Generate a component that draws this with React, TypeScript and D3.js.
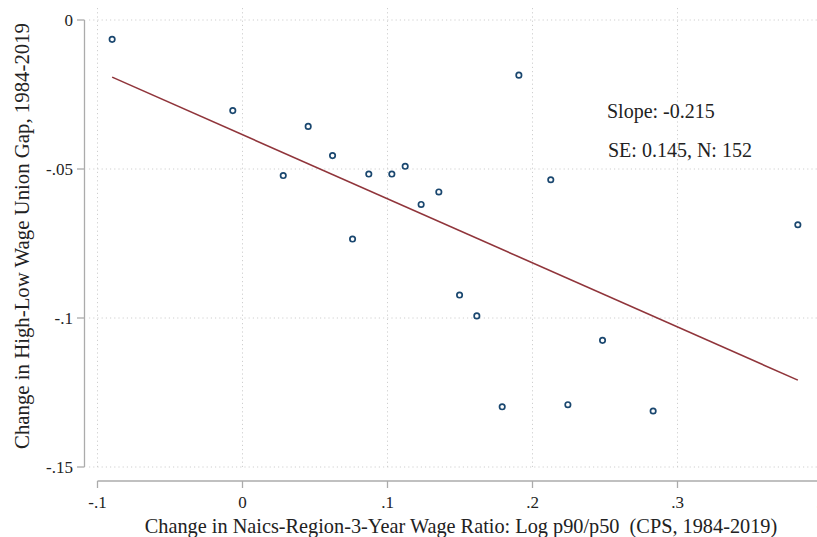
import React from "react";
import * as d3 from "d3";

const xValues = [-0.0899, -0.0067, 0.0281, 0.0453, 0.0621, 0.0759, 0.0871, 0.103, 0.1122, 0.1232, 0.1354, 0.1497, 0.1616, 0.1791, 0.1906, 0.2126, 0.2244, 0.2483, 0.2832, 0.383];
const yValues = [-0.0065, -0.0304, -0.0522, -0.0357, -0.0455, -0.0735, -0.0517, -0.0517, -0.0491, -0.0619, -0.0577, -0.0923, -0.0993, -0.1298, -0.0185, -0.0536, -0.1291, -0.1075, -0.1312, -0.0687];
const fitSlope = -0.215;
const fitIntercept = -0.0385;
const xTicks = [-0.1, 0, 0.1, 0.2, 0.3, 0.4];
const xTickLabels = ["-.1", "0", ".1", ".2", ".3", ".4"];
const yTicks = [0, -0.05, -0.1, -0.15];
const yTickLabels = ["0", "-.05", "-.1", "-.15"];
const annotations = ["Slope: -0.215", "SE: 0.145, N: 152"];
const xTitle = "Change in Naics-Region-3-Year Wage Ratio: Log p90/p50\u00a0\u00a0(CPS, 1984-2019)";
const yTitle = "Change in High-Low Wage Union Gap, 1984-2019";

const W = 817;
const H = 537;
const FONT = "'Liberation Serif', 'Times New Roman', serif";

export default function App() {
  const x = d3.scaleLinear().domain([-0.1, 0.3]).range([97.5, 677.5]);
  const y = d3.scaleLinear().domain([0, -0.15]).range([20, 467]);
  const xExt = d3.extent(xValues) as [number, number];
  const line = d3.line<number>().x((d) => x(d)).y((d) => y(fitIntercept + fitSlope * d));
  const axisColor = "#ababab";
  const gridColor = "#cfcfcf";
  const xAxisY = 481;
  const yAxisX = 84.5;
  return (
    <svg width={W} height={H} style={{ position: "absolute", left: 0, top: 0, background: "#fff" }}>
      <rect x={0} y={0} width={W} height={H} fill="#fff" />
      {/* grid */}
      {yTicks.map((t, i) => (
        <line key={"gy" + i} x1={89} x2={W} y1={y(t)} y2={y(t)} stroke={gridColor} strokeWidth={1} strokeDasharray="1.2 3" />
      ))}
      {xTicks.map((t, i) => (
        <line key={"gx" + i} x1={x(t)} x2={x(t)} y1={8} y2={470} stroke={gridColor} strokeWidth={1} strokeDasharray="1.2 3" />
      ))}
      {/* y axis */}
      <line x1={yAxisX} x2={yAxisX} y1={y(0)} y2={y(-0.15)} stroke={axisColor} strokeWidth={1.3} />
      {yTicks.map((t, i) => (
        <g key={"yt" + i}>
          <line x1={77} x2={yAxisX} y1={y(t)} y2={y(t)} stroke={axisColor} strokeWidth={1.3} />
          <text x={73} y={y(t)} dy="0.35em" textAnchor="end" fontFamily={FONT} fontSize={17} fill="#222">
            {yTickLabels[i]}
          </text>
        </g>
      ))}
      {/* x axis */}
      <line x1={x(-0.1)} x2={W + 20} y1={xAxisY} y2={xAxisY} stroke={axisColor} strokeWidth={1.3} />
      {xTicks.map((t, i) => (
        <g key={"xt" + i}>
          <line x1={x(t)} x2={x(t)} y1={xAxisY} y2={xAxisY + 7} stroke={axisColor} strokeWidth={1.3} />
          <text x={x(t)} y={508} textAnchor="middle" fontFamily={FONT} fontSize={17} fill="#222">
            {xTickLabels[i]}
          </text>
        </g>
      ))}
      {/* titles */}
      <text x={461} y={533} textAnchor="middle" fontFamily={FONT} fontSize={20.3} fill="#222">
        {xTitle}
      </text>
      <text transform={`translate(29,${236}) rotate(-90)`} textAnchor="middle" fontFamily={FONT} fontSize={20.8} fill="#222">
        {yTitle}
      </text>
      {/* fit line */}
      <path d={line(xExt) || ""} fill="none" stroke="#90353b" strokeWidth={1.6} />
      {/* points */}
      {xValues.map((v, i) => (
        <circle key={"p" + i} cx={x(v)} cy={y(yValues[i])} r={2.7} fill="#fff" stroke="#1a476f" strokeWidth={1.7} />
      ))}
      {/* annotations */}
      <text x={607} y={118} fontFamily={FONT} fontSize={20} fill="#222">{annotations[0]}</text>
      <text x={608} y={157} fontFamily={FONT} fontSize={20} fill="#222">{annotations[1]}</text>
    </svg>
  );
}
